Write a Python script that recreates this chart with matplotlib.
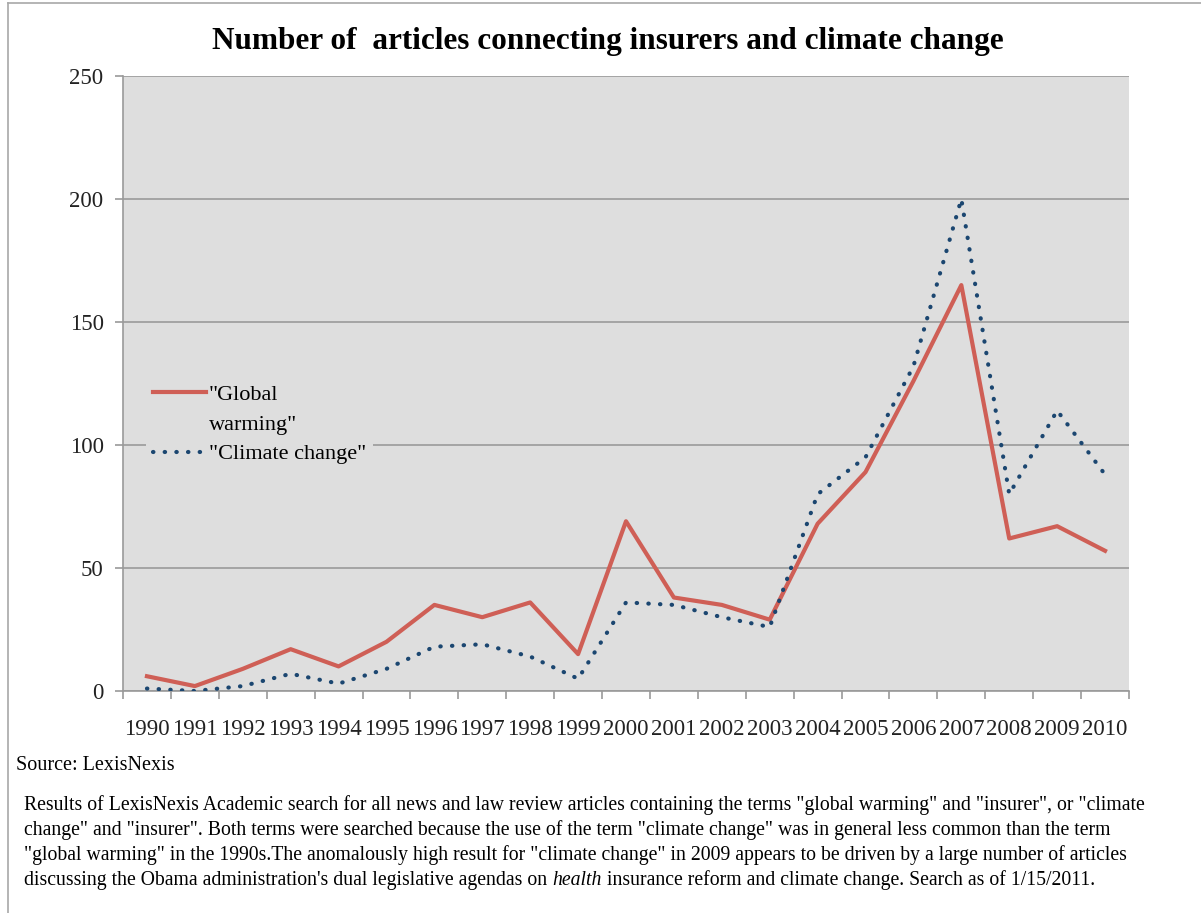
import numpy as np
import matplotlib
matplotlib.use("Agg")
import matplotlib.pyplot as plt
from matplotlib.lines import Line2D

plt.rcParams['font.family'] = ['Liberation Serif', 'DejaVu Serif']

# data
years = list(range(1990, 2011))
global_warming = [6, 2, 9, 17, 10, 20, 35, 30, 36, 15, 69, 38, 35, 29, 68, 89, 126, 165, 62, 67, 57]
climate_change = [1, 0, 2, 7, 3, 9, 18, 19, 14, 5, 36, 35, 30, 26, 80, 95, 132, 200, 80, 114, 88]
series_labels = ['"Global', 'warming"', '"Climate change"']
title = "Number of  articles connecting insurers and climate change"
source = "Source: LexisNexis"
note_lines = [
    'Results of LexisNexis Academic search for all news and law review articles containing the terms "global warming" and "insurer", or "climate',
    'change" and "insurer". Both terms were searched because the use of the term "climate change" was in general less common than the term',
    '"global warming" in the 1990s.The anomalously high result for "climate change" in 2009 appears to be driven by a large number of articles',
]
last_line = ["discussing the Obama administration's dual legislative agendas on ", "health",
             " insurance reform and climate change. Search as of 1/15/2011."]

red = "#CF5F56"
blue = "#1B4670"
grid_c = "#9A9A9A"
dots = (0, (0.1, 2.7))

fig = plt.figure(figsize=(12.01, 9.13), dpi=100)
ax = fig.add_axes([123 / 1201, 1 - 691 / 913, (1129 - 123) / 1201, (691 - 76) / 913])
ax.set_facecolor("#DEDEDE")

ax.plot(years, global_warming, color=red, lw=3.0, zorder=3)
ax.plot(years, climate_change, color=blue, lw=3.0, linestyle=dots,
        dash_capstyle='round', zorder=3)

ax.set_xlim(1989.5, 2010.5)
ax.set_ylim(0, 250)
ax.set_yticks([0, 50, 100, 150, 200, 250])
ax.yaxis.grid(True, color=grid_c, lw=1.2)
ax.set_axisbelow(True)

ax.set_xticks(years)
ax.set_xticklabels([str(y) for y in years])
ax.set_xticks(np.arange(1989.5, 2011, 1), minor=True)
ax.tick_params(axis='x', which='major', length=0, pad=20, labelsize=16.5, colors='#222222')
ax.tick_params(axis='x', which='minor', length=6, width=1.2, color=grid_c, direction='out')
ax.tick_params(axis='y', length=6, width=1.2, color=grid_c, pad=8, labelsize=16.5, labelcolor='#222222')

for s in ['top', 'right']:
    ax.spines[s].set_visible(False)
for s in ['left', 'bottom']:
    ax.spines[s].set_color(grid_c)
    ax.spines[s].set_linewidth(1.2)

# legend: handle sits on the first line of the wrapped label
handles = [Line2D([], [], color=red, lw=3.0),
           Line2D([], [], color='none'),
           Line2D([], [], color=blue, lw=3.0, linestyle=dots, dash_capstyle='round')]
leg = ax.legend(handles, series_labels, loc='upper left', bbox_to_anchor=(0.012, 0.528),
                frameon=True, facecolor="#DEDEDE", edgecolor="none", framealpha=1,
                fontsize=16, handlelength=2.4, handletextpad=0.12, labelspacing=0.42,
                borderpad=0.3)

fig.text(0.506, 1 - 42 / 913, title, ha='center', va='center', fontsize=22.5, fontweight='bold')
fig.text(16 / 1201, 1 - 765 / 913, source, ha='left', va='center', fontsize=14.5)

y0 = 805
fs = 14.2
for i, line in enumerate(note_lines):
    fig.text(24 / 1201, 1 - (y0 + 25 * i) / 913, line, ha='left', va='center', fontsize=fs)

# last line mixes roman and italic
fig.canvas.draw()
renderer = fig.canvas.get_renderer()
x = 24 / 1201
for j, part in enumerate(last_line):
    t = fig.text(x, 1 - (y0 + 75) / 913, part, ha='left', va='center', fontsize=fs,
                 style='italic' if j == 1 else 'normal')
    bb = t.get_window_extent(renderer)
    x += bb.width / fig.bbox.width

# outer frame (left and top edges)
fig.add_artist(Line2D([8 / 1201, 8 / 1201], [0, 1 - 3 / 913], transform=fig.transFigure,
                      color="#A8A8A8", lw=1.2))
fig.add_artist(Line2D([8 / 1201, 1], [1 - 3 / 913, 1 - 3 / 913], transform=fig.transFigure,
                      color="#A8A8A8", lw=1.2))

fig.savefig("out.png", dpi=100)
